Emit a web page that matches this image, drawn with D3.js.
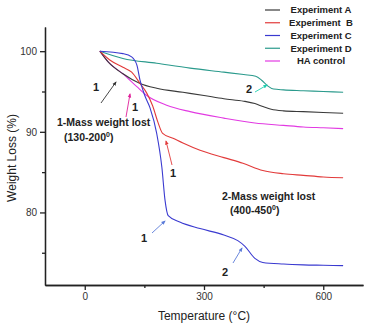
<!DOCTYPE html>
<html>
<head>
<meta charset="utf-8">
<script src="https://cdn.jsdelivr.net/npm/d3@7"></script>
<style>
  body { margin: 0; background: #fff; }
  svg { display: block; font-family: "Liberation Sans", Arial, sans-serif; }
</style>
</head>
<body>
<svg id="chart"></svg>
<script>
let w = 367;
let h = 326;

// series data (temperature in °C, weight in %)
const tempA = [38, 60, 96, 139, 181, 247, 300, 350, 400, 428, 450, 469, 500, 550, 600, 650];
const lossA = [100, 98.6, 97.2, 96.0, 95.4, 94.9, 94.5, 94.1, 93.8, 93.5, 93.1, 92.8, 92.6, 92.5, 92.4, 92.3];

const tempB = [38, 63, 96, 118, 139, 156, 171, 184, 196, 222, 247, 290, 350, 398, 448, 500, 550, 600, 650];
const lossB = [100, 98.9, 98.0, 97.4, 96.0, 94.8, 93.2, 91.2, 89.8, 89.2, 88.6, 87.7, 86.8, 86.1, 85.2, 84.8, 84.6, 84.4, 84.3];

const tempC = [38, 96, 118, 131, 139, 151, 164, 181, 194, 202, 210, 239, 290, 350, 385, 403, 428, 448, 500, 550, 600, 650];
const lossC = [100, 99.7, 99.3, 98.3, 96.4, 94.5, 93.0, 89.8, 85.6, 81.5, 79.6, 78.8, 78.0, 77.2, 76.5, 75.8, 74.3, 73.8, 73.6, 73.5, 73.45, 73.4];

const tempD = [38, 96, 181, 265, 350, 400, 430, 445, 460, 475, 500, 550, 600, 650];
const lossD = [100, 99.1, 98.5, 97.9, 97.4, 97.1, 96.9, 96.4, 95.7, 95.3, 95.2, 95.1, 95.0, 94.9];

const tempHA = [38, 60, 96, 131, 156, 206, 265, 350, 428, 500, 550, 600, 650];
const lossHA = [100, 98.6, 97.2, 95.6, 94.5, 93.3, 92.5, 91.7, 91.1, 90.8, 90.6, 90.5, 90.4];

const seriesNames = ['Experiment A', 'Experiment  B', 'Experiment C', 'Experiment D', 'HA control'];
const seriesColors = ['#3a3a3a', '#e23a3a', '#3a3ad0', '#2a9a8c', '#e23ae2'];

const xTicks = [0, 300, 600];
const xMinor = [150, 450];
const yTicks = [80, 90, 100];
const yMinor = [75, 85, 95];

const svg = d3.select('#chart')
    .attr('width', w)
    .attr('height', h);

const xScale = d3.scaleLinear().domain([-100, 700]).range([45, 363]);
const yScale = d3.scaleLinear().domain([71, 103]).range([285, 27]);

// axes
const xAxis = d3.axisBottom(xScale).tickValues(xTicks).tickSize(5).tickSizeOuter(0).tickPadding(3);
const xAxisMinor = d3.axisBottom(xScale).tickValues(xMinor).tickSize(3).tickFormat('').tickSizeOuter(0);
const yAxis = d3.axisLeft(yScale).tickValues(yTicks).tickSize(5).tickSizeOuter(0).tickPadding(3);
const yAxisMinor = d3.axisLeft(yScale).tickValues(yMinor).tickSize(3).tickFormat('').tickSizeOuter(0);

const axisGroups = [
    svg.append('g').attr('transform', 'translate(0,285)').call(xAxis),
    svg.append('g').attr('transform', 'translate(0,285)').call(xAxisMinor),
    svg.append('g').attr('transform', 'translate(45,0)').call(yAxis),
    svg.append('g').attr('transform', 'translate(45,0)').call(yAxisMinor)
];
axisGroups.forEach(g => {
    g.selectAll('path, line').attr('stroke', '#222').attr('stroke-width', 1.3);
    g.selectAll('text').attr('font-size', 10).attr('fill', '#333')
        .attr('font-family', '"Liberation Sans", Arial, sans-serif');
});

svg.append('text')
    .attr('x', 204)
    .attr('y', 320)
    .attr('text-anchor', 'middle')
    .attr('font-size', 12)
    .attr('fill', '#222')
    .text('Temperature (°C)');

svg.append('text')
    .attr('transform', 'translate(16,158) rotate(-90)')
    .attr('text-anchor', 'middle')
    .attr('font-size', 12)
    .attr('fill', '#222')
    .text('Weight Loss (%)');

// curves
const allSeries = [
    [tempA, lossA], [tempB, lossB], [tempC, lossC], [tempD, lossD], [tempHA, lossHA]
];
const line = d3.line()
    .x(d => xScale(d[0]))
    .y(d => yScale(d[1]))
    .curve(d3.curveMonotoneX);

const drawOrder = [4, 0, 3, 1, 2];
drawOrder.forEach(i => {
    const pts = allSeries[i][0].map((t, j) => [t, allSeries[i][1][j]]);
    svg.append('path')
        .attr('d', line(pts))
        .attr('fill', 'none')
        .attr('stroke', seriesColors[i])
        .attr('stroke-width', 1.1);
});

// legend
const legend = svg.append('g')
    .attr('font-size', 9.5)
    .attr('font-weight', 'bold')
    .attr('text-anchor', 'middle');
seriesNames.forEach((name, i) => {
    const y = 10 + i * 12.75;
    legend.append('line')
        .attr('x1', 265).attr('x2', 280)
        .attr('y1', y).attr('y2', y)
        .attr('stroke', seriesColors[i])
        .attr('stroke-width', 1.2);
    legend.append('text')
        .attr('x', 321)
        .attr('y', y)
        .attr('dy', '0.35em')
        .attr('fill', '#222')
        .attr('xml:space', 'preserve')
        .text(name);
});

// arrow markers
const defs = svg.append('defs');
const arrowColors = {black: '#333', pink: '#e0209a', red: '#e23a3a', blue: '#5a7ad8', teal: '#20d0b0'};
Object.keys(arrowColors).forEach(k => {
    defs.append('marker')
        .attr('id', 'arr-' + k)
        .attr('viewBox', '0 0 10 10')
        .attr('refX', 8).attr('refY', 5)
        .attr('markerWidth', 5).attr('markerHeight', 5)
        .attr('orient', 'auto')
        .append('path')
        .attr('d', 'M0,1 L10,5 L0,9 Z')
        .attr('fill', arrowColors[k]);
});

// annotation arrows: [x1, y1, x2, y2, colour]
const arrows = [
    [101, 103, 116, 82, 'black'],
    [126, 117, 130, 94, 'pink'],
    [172, 165, 166, 141, 'red'],
    [152, 233, 165, 221, 'blue'],
    [233, 263, 242, 248, 'blue'],
    [255, 92, 267, 85, 'teal']
];
arrows.forEach(a => {
    svg.append('line')
        .attr('x1', a[0]).attr('y1', a[1])
        .attr('x2', a[2]).attr('y2', a[3])
        .attr('stroke', arrowColors[a[4]])
        .attr('stroke-width', 0.9)
        .attr('marker-end', 'url(#arr-' + a[4] + ')');
});

// annotation labels: [x, y, text]
const notes = [
    [96, 91, '1'],
    [135, 111, '1'],
    [173, 177, '1'],
    [144, 242, '1'],
    [225, 276, '2'],
    [249, 93, '2']
];
notes.forEach(n => {
    svg.append('text')
        .attr('x', n[0]).attr('y', n[1])
        .attr('text-anchor', 'middle')
        .attr('font-size', 11)
        .attr('font-weight', 'bold')
        .attr('fill', '#222')
        .text(n[2]);
});

const bold = svg.append('g')
    .attr('font-size', 10.5)
    .attr('font-weight', 'bold')
    .attr('fill', '#222');
bold.append('text').attr('x', 57).attr('y', 126).text('1-Mass weight lost');
const t1 = bold.append('text').attr('x', 64).attr('y', 141).text('(130-200');
t1.append('tspan').attr('font-size', 7).attr('dy', -4).text('0');
t1.append('tspan').attr('dy', 4).text(')');
bold.append('text').attr('x', 222).attr('y', 200).text('2-Mass weight lost');
const t2 = bold.append('text').attr('x', 230).attr('y', 214).text('(400-450');
t2.append('tspan').attr('font-size', 7).attr('dy', -4).text('0');
t2.append('tspan').attr('dy', 4).text(')');
</script>
</body>
</html>
